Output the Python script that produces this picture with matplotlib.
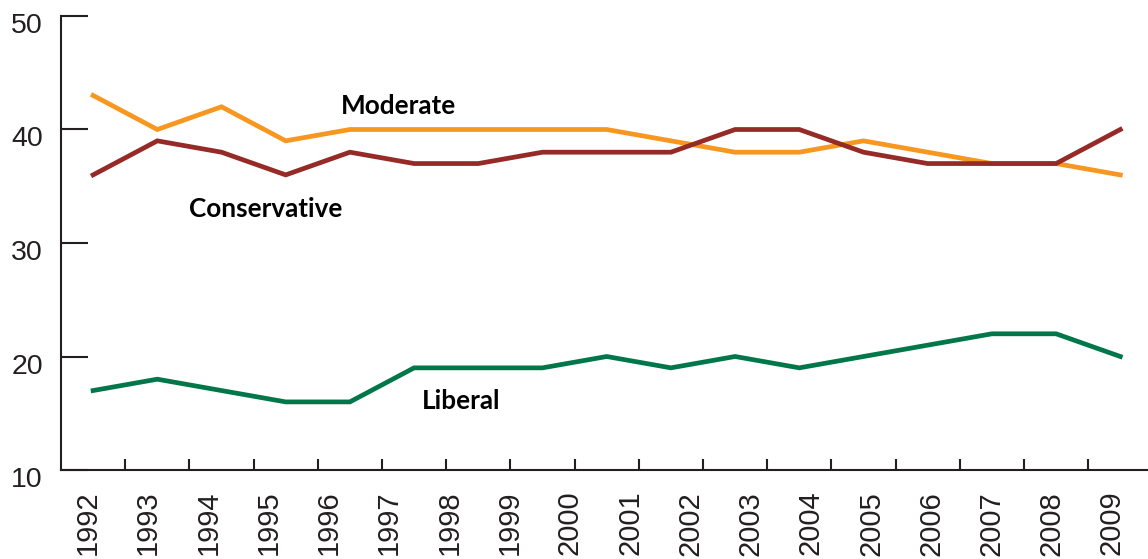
import numpy as np
import matplotlib
matplotlib.use('Agg')
import matplotlib.pyplot as plt
from matplotlib.transforms import ScaledTranslation

# Data
years = ['1992', '1993', '1994', '1995', '1996', '1997', '1998', '1999', '2000',
         '2001', '2002', '2003', '2004', '2005', '2006', '2007', '2008', '2009']
moderate = [43, 40, 42, 39, 40, 40, 40, 40, 40, 39, 38, 38, 39, 38, 37, 37, 36]
conservative = [36, 39, 38, 36, 38, 37, 37, 38, 38, 38, 40, 40, 38, 37, 37, 37, 40]
liberal = [17, 18, 17, 16, 16, 19, 19, 19, 20, 19, 20, 19, 20, 21, 22, 22, 20]
yticks = [10, 20, 30, 40, 50]

c_mod = '#F7971F'
c_con = '#952A26'
c_lib = '#00774A'
ink = '#231F20'

plt.rcParams['font.family'] = ['Liberation Sans', 'DejaVu Sans']

fig = plt.figure(figsize=(11.48, 5.59), dpi=100)
ax = fig.add_axes([61 / 1148, 89 / 559, 1 - 61 / 1148, (470 - 16) / 559])

x = np.arange(len(moderate))
ax.plot(x, moderate, color=c_mod, lw=3.4, solid_joinstyle='miter')
ax.plot(x, conservative, color=c_con, lw=3.4, solid_joinstyle='miter')
ax.plot(x, liberal, color=c_lib, lw=3.4, solid_joinstyle='miter')

ax.set_xlim(-0.5, -0.5 + 1087 / 64.2)
ax.set_ylim(10, 50)

for s in ['top', 'right']:
    ax.spines[s].set_visible(False)
for s in ['left', 'bottom']:
    ax.spines[s].set_linewidth(1.5)
    ax.spines[s].set_color(ink)

# y axis
ax.set_yticks(yticks)
ax.set_yticklabels([str(v) for v in yticks])
ax.tick_params(axis='y', direction='in', length=19.5, width=1.5, color=ink,
               labelsize=20.5, labelcolor=ink, pad=13)
for lab in ax.get_yticklabels():
    lab.set_transform(lab.get_transform() + ScaledTranslation(0, -7 / 100, fig.dpi_scale_trans))

# x axis: ticks between points, year labels on their own spacing
ax.set_xticks(x[:-1] + 0.5)
ax.set_xticklabels([])
ax.tick_params(axis='x', which='major', direction='in', length=8, width=1.5, color=ink)
label_pos = np.linspace(-0.08, 15.87, len(years))
ax.set_xticks(label_pos, minor=True)
ax.set_xticklabels(years, minor=True, rotation=90)
ax.tick_params(axis='x', which='minor', length=0, labelsize=21, labelcolor=ink, pad=15)

# series labels
lab_kw = dict(family=['Lato', 'DejaVu Sans'], fontweight='bold', fontsize=18.8,
              color='black', ha='center', va='baseline')
ax.text(4.75, 41.37, 'Moderate', **lab_kw)
ax.text(2.69, 32.29, 'Conservative', **lab_kw)
ax.text(5.73, 15.37, 'Liberal', **lab_kw)

fig.savefig('out.png', dpi=100)
